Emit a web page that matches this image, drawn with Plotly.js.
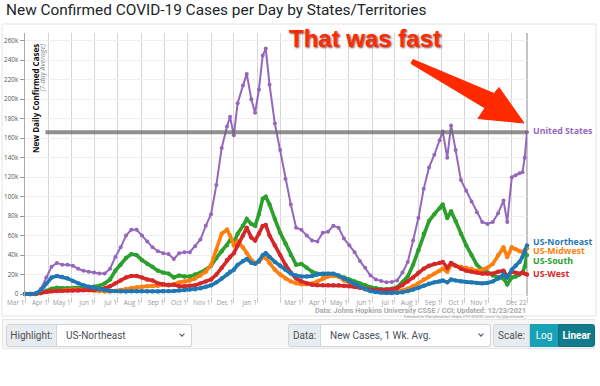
<!DOCTYPE html>
<html>
<head>
<meta charset="utf-8">
<script src="https://cdn.plot.ly/plotly-3.0.1.min.js"></script>
<style>
html,body{margin:0;padding:0;background:#fff;width:600px;height:386px;overflow:hidden;font-family:Roboto,"Open Sans",sans-serif;}
#chart{position:absolute;left:0;top:0;width:600px;height:386px;}
#panel{position:absolute;left:2px;top:319px;width:593px;height:30px;background:#f7f7f8;border:1px solid #e6e6e6;box-sizing:border-box;}
.box{position:absolute;top:324px;height:23px;box-sizing:border-box;font-size:10px;color:#495057;display:flex;align-items:center;}
.lbl{background:#e9ecef;border:1px solid #ced4da;border-radius:3px 0 0 3px;justify-content:center;}
.sel{background:#fff;border:1px solid #ced4da;border-left:none;border-radius:0 3px 3px 0;padding-left:9px;}
.chev{position:absolute;right:7px;top:7px;width:3px;height:3px;border-right:1.2px solid #495057;border-bottom:1.2px solid #495057;transform:rotate(45deg);}
.btn{color:#fff;justify-content:center;}
</style>
</head>
<body>
<div id="chart"></div>
<div id="panel"></div>
<div class="box lbl" style="left:6px;width:51px;">Highlight:</div>
<div class="box sel" style="left:57px;width:135px;">US-Northeast<span class="chev"></span></div>
<div class="box lbl" style="left:288px;width:33px;">Data:</div>
<div class="box sel" style="left:321px;width:170px;">New Cases, 1 Wk. Avg.<span class="chev"></span></div>
<div class="box lbl" style="left:493px;width:37px;">Scale:</div>
<div class="box btn" style="left:530px;width:28px;background:#17a2b8;border:1px solid #17a2b8;">Log</div>
<div class="box btn" style="left:558px;width:37px;background:#117a8b;border:1px solid #10707f;border-radius:0 3px 3px 0;font-weight:bold;">Linear</div>
<script>
// ---- data (7-day average new cases, thousands) ----
const dates = [
 '2020-03-01','2020-03-08','2020-03-15','2020-03-22','2020-03-29',
 '2020-04-05','2020-04-12','2020-04-19','2020-04-26',
 '2020-05-03','2020-05-10','2020-05-17','2020-05-24','2020-05-31',
 '2020-06-07','2020-06-14','2020-06-21','2020-06-28',
 '2020-07-05','2020-07-12','2020-07-19','2020-07-26',
 '2020-08-02','2020-08-09','2020-08-16','2020-08-23','2020-08-30',
 '2020-09-06','2020-09-13','2020-09-20','2020-09-27',
 '2020-10-04','2020-10-11','2020-10-18','2020-10-25',
 '2020-11-01','2020-11-08','2020-11-15','2020-11-22','2020-11-26',
 '2020-12-01','2020-12-06','2020-12-13','2020-12-18','2020-12-24','2020-12-29',
 '2021-01-03','2021-01-08','2021-01-12','2021-01-17','2021-01-24','2021-01-31',
 '2021-02-07','2021-02-14','2021-02-21','2021-02-28',
 '2021-03-07','2021-03-14','2021-03-21','2021-03-28',
 '2021-04-04','2021-04-11','2021-04-18','2021-04-25',
 '2021-05-02','2021-05-09','2021-05-16','2021-05-23','2021-05-30',
 '2021-06-06','2021-06-13','2021-06-20','2021-06-27',
 '2021-07-04','2021-07-11','2021-07-18','2021-07-25',
 '2021-08-01','2021-08-08','2021-08-15','2021-08-22','2021-08-29',
 '2021-09-02','2021-09-08','2021-09-13','2021-09-19','2021-09-26',
 '2021-10-03','2021-10-10','2021-10-17','2021-10-24','2021-10-31',
 '2021-11-07','2021-11-14','2021-11-21','2021-11-26',
 '2021-12-02','2021-12-07','2021-12-12','2021-12-16','2021-12-19','2021-12-22'
];
const unitedStates = [
 0,0.1,0.6,5.5,17,
 28,32,30,30,
 29,26,24,23,22,
 21,21,26,38,
 48,60,66,66,
 60,54,48,44,42,
 41,36,42,43,
 43,49,56,70,
 82,112,150,172,182,
 163,196,214,226,200,186,
 210,245,252,215,175,148,
 118,92,68,66,
 60,55,54,63,
 64,70,68,57,
 50,43,34,27,19,
 15,13.5,12,12.5,
 14,22,33,55,
 78,108,130,143,158,
 167,140,173,148,117,
 106,95,84,74,72,
 74,83,96,74,
 120,122,124,125,140,166
];
const usNortheast = [
 0,0.1,0.5,4,11,
 17,18.5,17.5,16,
 13.5,11,9,7.5,6.5,
 5,4,3.3,3,
 2.7,2.6,2.8,2.9,
 2.8,2.7,2.7,2.6,2.8,
 3,3.1,3.6,4,
 4.5,5,6,7.5,
 9,12,16,20,23,
 25,30,34,36,32,31,
 34,40,42,38,33,29,
 25,21,19,18,
 18,18.5,20,21,
 21,21,19,16,
 13,10,7.5,5,3,
 2,1.5,1.2,1.1,
 1.2,1.8,3,4.5,
 6.5,8.5,10.5,12,13,
 14,12,15,14,13,
 12.5,12,11.5,11,11.5,
 13,16,20,17,
 25,29,33,38,43,50
];
const usMidwest = [
 0,0,0.1,0.8,2.2,
 3,3.3,3.5,4.3,
 4.8,4.5,4.2,4,3.5,
 3,2.6,2.7,3.3,
 4.2,5.3,6.3,7,
 7.5,8,8.3,8.5,9.5,
 9.5,10,12,13,
 14,16,19,23,
 30,45,62,66,60,
 50,54,48,42,35,32,
 33,38,37,32,25,20,
 16,13,11,10,
 10,11,13,16,
 18,19,18,14,
 12,9.5,7.5,5.5,3.5,
 2.8,2.3,2,2,
 2.4,3.5,5.5,8,
 11,15,18,21,24,
 26,23,30,29,28,
 27,26,24,25,27,
 31,40,48,38,
 48,46,44,43,45,47
];
const usSouth = [
 0,0,0.1,1,3.5,
 5.5,6.5,6,6,
 6.3,6.2,6.5,7,7.5,
 8.5,11,15,24,
 30,37,41,40,
 35,31,28,24,22,
 21,17,19,18,
 18,20,22,25,
 29,37,44,50,55,
 53,62,70,77,72,70,
 82,98,100,92,77,63,
 52,40,30,31,
 27,23,21,20,
 19,19,18,17,
 15,13,11,9,7,
 6,5,5,5.5,
 7,12,18,30,
 45,62,75,82,88,
 92,78,85,75,62,
 50,40,30,25,22,
 19,17,16,10,
 17,18,20,22,28,40
];
const usWest = [
 0,0.1,0.3,1.3,2.5,
 3,3.2,3.3,3.5,
 3.7,3.7,3.8,4,4.3,
 5,6,8,11,
 14,17,18.5,18.5,
 17,15,14,11,10,
 9,9.5,8,8,
 8.5,9,11,13,
 15,20,27,35,38,
 42,50,60,68,58,55,
 62,70,71,60,50,40,
 30,22,16,13,
 11,9.5,9,9,
 9,9,9,8.5,
 8,7.5,6.5,5.5,4.5,
 4.2,4,4,4.8,
 6,9,13,17,
 22,26,29,31,32,
 33,27,32,29,26,
 24,23,22,21,21,
 21,23,24,18,
 23,22,21,22,21,20
];
const seriesNames = ['United States','US-South','US-Midwest','US-West','US-Northeast'];
const seriesColors = ['#9467bd','#2ca02c','#ff7f0e','#d62728','#1f77b4'];
const yTickVals = [0,20,40,60,80,100,120,140,160,180,200,220,240,260];
const yTickText = ['0','20k','40k','60k','80k','100k','120k','140k','160k','180k','200k','220k','240k','260k'];
const xTickVals = ['2020-03-01','2020-04-01','2020-05-01','2020-06-01','2020-07-01','2020-08-01','2020-09-01','2020-10-01','2020-11-01','2020-12-01','2021-01-01','2021-02-01','2021-03-01','2021-04-01','2021-05-01','2021-06-01','2021-07-01','2021-08-01','2021-09-01','2021-10-01','2021-11-01','2021-12-01','2021-12-22'];
const xTickText = ['Mar 1','Apr 1','May 1','Jun 1','Jul 1','Aug 1','Sep 1','Oct 1','Nov 1','Dec 1','Jan 1','','Mar 1','Apr 1','May 1','Jun 1','Jul 1','Aug 1','Sep 1','Oct 1','Nov 1','','Dec 22'];

// ---- drawing ----
const L = 25, R = 527, T = 33, B = 296;
const px = x => (x - L) / (R - L);
const py = y => (B - y) / (B - T);
const seriesData = [unitedStates, usSouth, usMidwest, usWest, usNortheast];
const lastDate = dates[dates.length - 1];

const traces = seriesData.map((vals, i) => ({
  type: 'scatter', mode: 'lines+markers', x: dates, y: vals, name: seriesNames[i],
  line: {color: seriesColors[i], width: i === 0 ? 2 : 3.6},
  marker: {color: seriesColors[i], size: i === 0 ? 4 : 4.4},
  cliponaxis: false, hoverinfo: 'skip'
}));

const labelShift = [1, -5.5, -2.5, 1, 3.5];
const labelAnns = seriesData.map((vals, i) => ({
  x: lastDate, y: vals[vals.length - 1], xref: 'x', yref: 'y',
  text: '<b>' + seriesNames[i] + '</b>', showarrow: false,
  xanchor: 'left', yanchor: 'middle', xshift: 4, yshift: labelShift[i],
  font: {family: 'Open Sans', size: 8.8, color: seriesColors[i]}
}));

const arrowPts = [[413,59.5],[494,93.5],[499,87.5],[524,123],[478,118.5],[485,108],[411,63.5]];
const arrowPath = 'M ' + arrowPts.map(p => px(p[0]).toFixed(4) + ',' + py(p[1]).toFixed(4)).join(' L ') + ' Z';

const layout = {
  width: 600, height: 386,
  margin: {l: L, r: 600 - R, t: T, b: 386 - B, pad: 0},
  paper_bgcolor: '#ffffff', plot_bgcolor: '#ffffff', showlegend: false,
  title: {text: 'New Confirmed COVID-19 Cases per Day by States/Territories',
    font: {family: 'Roboto', size: 15.4, color: '#212529'},
    xref: 'container', x: 6 / 600, xanchor: 'left', yref: 'container', y: 1 - 10 / 386, yanchor: 'middle'},
  xaxis: {type: 'date', range: [dates[0], lastDate], tickvals: xTickVals, ticktext: xTickText,
    tickangle: 0, ticklabelposition: 'outside left', tickfont: {family: 'Open Sans', size: 6.5, color: '#9a9a9a'},
    ticks: 'outside', ticklen: 6, tickcolor: '#cccccc', showgrid: true, gridcolor: '#d6d6d6', gridwidth: 1,
    zeroline: false, showline: false, fixedrange: true},
  yaxis: {range: [-2, 268], tickvals: yTickVals, ticktext: yTickText,
    tickfont: {family: 'Open Sans', size: 6.3, color: '#555555'},
    ticks: 'outside', ticklen: 4, tickcolor: '#999999', showgrid: true, gridcolor: '#efefef',
    zeroline: false, showline: true, linecolor: '#aaaaaa', linewidth: 1.5, fixedrange: true},
  shapes: [
    {type: 'rect', xref: 'paper', yref: 'paper', x0: px(2), x1: px(596), y0: py(24), y1: py(316),
      line: {color: '#e4e4e4', width: 1}, fillcolor: 'rgba(0,0,0,0)', layer: 'below'},
    {type: 'line', xref: 'paper', yref: 'paper', x0: 1, x1: 1, y0: 0, y1: 1,
      line: {color: '#9a9a9a', width: 1.2}, layer: 'below'},
    {type: 'line', xref: 'x', yref: 'y', x0: '2020-03-28', x1: lastDate,
      y0: unitedStates[unitedStates.length - 1], y1: unitedStates[unitedStates.length - 1],
      line: {color: 'rgba(105,105,105,0.75)', width: 4}, layer: 'above'},
    {type: 'path', xref: 'paper', yref: 'paper', path: arrowPath,
      fillcolor: '#ff2a00', line: {color: '#ff2a00', width: 1}, layer: 'above'}
  ],
  annotations: labelAnns.concat([
    {xref: 'paper', yref: 'paper', x: px(28), y: py(42), xanchor: 'left', yanchor: 'top',
      text: '<b>New Daily Confirmed Cases</b>', textangle: -90, showarrow: false,
      font: {family: 'Open Sans', size: 8, color: '#111111'}},
    {xref: 'paper', yref: 'paper', x: px(36), y: py(42), xanchor: 'left', yanchor: 'top',
      text: '<i>(7-day Average)</i>', textangle: -90, showarrow: false,
      font: {family: 'Open Sans', size: 7, color: '#888888'}},
    {xref: 'paper', yref: 'paper', x: px(528), y: py(310), xanchor: 'right', yanchor: 'middle',
      text: '<b>Data: Johns Hopkins University CSSE / CCI; Updated: 12/23/2021</b>', showarrow: false,
      font: {family: 'Roboto', size: 7.2, color: '#a9a9a9'}},
    {xref: 'paper', yref: 'paper', x: px(528), y: py(316.5), xanchor: 'right', yanchor: 'middle',
      text: 'Interactive Visualization: https://91-DIVOC.com/ by @profwade_', showarrow: false,
      font: {family: 'Roboto', size: 4.3, color: '#999999'}},
    {xref: 'paper', yref: 'paper', x: px(365), y: py(39), xanchor: 'center', yanchor: 'middle',
      text: '<b>That was fast</b>', showarrow: false,
      font: {family: 'Liberation Sans', size: 24, color: '#ff2a00', shadow: '1px 1px 2px rgba(60,0,0,0.7)'}}
  ])
};

Plotly.newPlot('chart', traces, layout, {displayModeBar: false, staticPlot: true});
</script>
</body>
</html>
